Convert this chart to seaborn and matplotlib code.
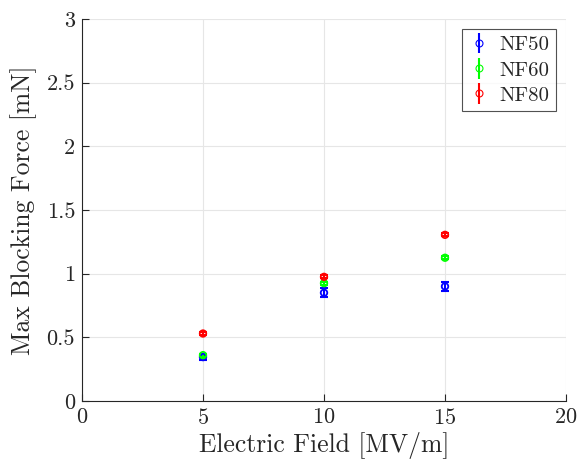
import matplotlib
matplotlib.use("Agg")
import matplotlib.pyplot as plt
import seaborn as sns
import pandas as pd

# Measured blocking force for each nanofiber loading
field = [5, 10, 15]
series = ["NF50", "NF60", "NF80"]
force_nf50 = [0.345, 0.85, 0.90]
force_nf60 = [0.36, 0.925, 1.125]
force_nf80 = [0.53, 0.975, 1.305]
err_nf50 = [0.02, 0.035, 0.035]
err_nf60 = [0.012, 0.012, 0.012]
err_nf80 = [0.012, 0.012, 0.012]
colors = ["#0000ff", "#00ff00", "#ff0000"]
x_ticks = [0, 5, 10, 15, 20]
y_ticks = [0, 0.5, 1, 1.5, 2, 2.5, 3]
y_tick_labels = ["0", "0.5", "1", "1.5", "2", "2.5", "3"]

df = pd.DataFrame({
    "field": field * 3,
    "force": force_nf50 + force_nf60 + force_nf80,
    "err": err_nf50 + err_nf60 + err_nf80,
    "series": [s for s in series for _ in field],
})

sns.set_style("white")
plt.rcParams["font.family"] = ["cmr10", "DejaVu Serif"]
plt.rcParams["axes.formatter.use_mathtext"] = True
plt.rcParams["mathtext.fontset"] = "cm"

fig = plt.figure(figsize=(5.83, 4.68), dpi=100)
ax = fig.add_axes([82 / 583, 1 - 401 / 468, 484 / 583, 382 / 468])

for name, col in zip(series, colors):
    sub = df[df["series"] == name]
    ax.errorbar(sub["field"], sub["force"], yerr=sub["err"], fmt="none",
                ecolor=col, elinewidth=1.5, capsize=3, capthick=1.5, zorder=3)

sns.scatterplot(data=df, x="field", y="force", hue="series", palette=colors,
                hue_order=series, marker="o", s=22,
                linewidth=1.3, legend=False, ax=ax, zorder=4)
# open markers drawn with the series colour
pts = ax.collections[-1]
pts.set_facecolor("none")
pts.set_edgecolor([colors[series.index(s)] for s in df["series"]])

# legend entries combining error bar and open marker
handles = []
for name, col in zip(series, colors):
    h = ax.errorbar([], [], yerr=[], fmt="o", color=col, mfc="none", ms=5,
                    mew=0.8, elinewidth=1.5, capsize=3, capthick=1.5)
    handles.append(h)
leg = ax.legend(handles, series, loc="upper right", fontsize=15,
                frameon=True, fancybox=False, edgecolor="#262626",
                borderpad=0.3, handlelength=1.0, handletextpad=0.5,
                labelspacing=0.32, borderaxespad=0.5)
leg.get_frame().set_linewidth(0.8)

ax.set_xlim(0, 20)
ax.set_ylim(0, 3)
ax.set_xticks(x_ticks)
ax.set_yticks(y_ticks)
ax.set_yticklabels(y_tick_labels)
ax.grid(True, color="#e6e6e6", linewidth=0.8)
ax.set_axisbelow(True)
for side in ["top", "right"]:
    ax.spines[side].set_visible(False)
for side in ["left", "bottom"]:
    ax.spines[side].set_color("#262626")
    ax.spines[side].set_linewidth(0.8)
ax.tick_params(direction="in", length=5, width=0.8, colors="#262626",
               labelsize=16, labelcolor="#262626", pad=5)
ax.tick_params(axis="both", which="both", left=True, bottom=True)

ax.set_xlabel("Electric Field [MV/m]", fontsize=18.5, color="#262626", labelpad=3)
ax.set_ylabel("Max Blocking Force [mN]", fontsize=18.5, color="#262626", labelpad=7)

fig.savefig("out.png", dpi=100)
